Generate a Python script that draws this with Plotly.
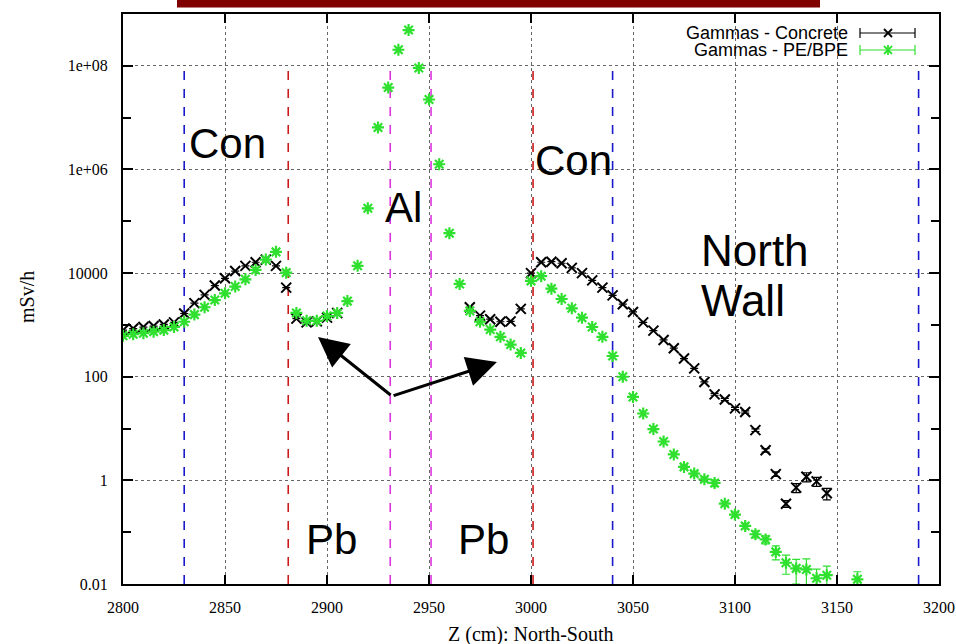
import plotly.graph_objects as go

# ---------------- data ----------------
z_concrete = [2800, 2805, 2810, 2815, 2820, 2825, 2830, 2835, 2840, 2845, 2850, 2855, 2860, 2865,
              2870, 2875, 2880, 2885, 2890, 2895, 2900, 2905,
              2970, 2975, 2980, 2985, 2990, 2995, 3000, 3005, 3010, 3015, 3020, 3025, 3030, 3035,
              3040, 3045, 3050, 3055, 3060, 3065, 3070, 3075, 3080, 3085, 3090, 3095, 3100, 3105,
              3110, 3115, 3120, 3125, 3130, 3135, 3140, 3145]
dose_concrete = [790, 850, 910, 950, 1020, 1120, 1660, 2630, 3800, 5750, 7940, 10960, 13800, 16200,
                 18200, 13800, 5250, 1320, 1120, 1170, 1380, 1700,
                 2190, 1510, 1290, 1150, 1170, 2040, 10000, 16200, 16600, 15500, 12600, 10000, 7240, 5250,
                 3720, 2510, 1780, 1120, 776, 513, 355, 224, 145, 79.4, 45.7, 36.3, 24.5, 20.9,
                 9.33, 3.80, 1.32, 0.355, 0.724, 1.17, 0.955, 0.562]
relerr_concrete = [0] * 46 + [0.04, 0.05, 0.05, 0.05, 0.06, 0.08, 0.1, 0.15, 0.2, 0.2, 0.2, 0.25]

z_pe = [2800, 2805, 2810, 2815, 2820, 2825, 2830, 2835, 2840, 2845, 2850, 2855, 2860, 2865,
        2870, 2875, 2880, 2885, 2890, 2895, 2900, 2905, 2910, 2915, 2920, 2925, 2930, 2935,
        2940, 2945, 2950, 2955, 2960, 2965, 2970, 2975, 2980, 2985, 2990, 2995, 3000, 3005,
        3010, 3015, 3020, 3025, 3030, 3035, 3040, 3045, 3050, 3055, 3060, 3065, 3070, 3075,
        3080, 3085, 3090, 3095, 3100, 3105, 3110, 3115, 3120, 3125, 3130, 3135, 3140, 3145, 3160]
dose_pe = [617, 661, 692, 741, 794, 912, 1150, 1580, 2190, 3020, 4070, 5500, 7590, 11500,
           18200, 25700, 10200, 1700, 1200, 1200, 1480, 1700, 2880, 13800, 178000, 6.46e6, 3.8e7, 2.04e8,
           4.9e8, 9.1e7, 2.24e7, 1.26e6, 58900, 6170, 1860, 1150, 813, 589, 417, 288, 7080, 8710,
           5010, 3160, 2090, 1380, 912, 589, 251, 100, 40.7, 19.5, 9.77, 5.62, 3.16, 1.82,
           1.35, 1.05, 0.891, 0.355, 0.219, 0.132, 0.0912, 0.0724, 0.0417, 0.0257, 0.0200, 0.0191,
           0.0129, 0.0148, 0.0123]
relerr_pe = [0] * 55 + [0.05, 0.08, 0.1, 0.15, 0.08, 0.1, 0.12, 0.15, 0.18, 0.3, 0.4, 0.5, 0.6, 0.5, 0.5, 0.4]

boundaries_z = [2830, 2881, 2931, 2951, 3001, 3040, 3190]
boundary_colors = ["#1a1acc", "#cc1a1a", "#dd33dd", "#dd33dd", "#cc1a1a", "#1a1acc", "#1a1acc"]
boundary_top = 1e8

y_tickvals = [0.01, 1, 100, 1e4, 1e6, 1e8]
y_ticktext = ["0.01", "1", "100", "10000", "1e+06", "1e+08"]
y_minor = [0.1, 10, 1000, 1e5, 1e7]
x_tickvals = [2800, 2850, 2900, 2950, 3000, 3050, 3100, 3150, 3200]

regions = [("Con", 2851, 6.51), ("Al", 2937.7, 5.27), ("Con", 3020.6, 6.18),
           ("Pb", 2902, -1.15), ("Pb", 2976.5, -1.15)]

GREEN = "#2fe02f"

# ---------------- figure ----------------
fig = go.Figure()

for zb, col in zip(boundaries_z, boundary_colors):
    fig.add_trace(go.Scatter(x=[zb, zb], y=[0.01, boundary_top], mode="lines",
                             line=dict(color=col, width=1.6, dash="dash"),
                             showlegend=False, hoverinfo="skip"))

fig.add_trace(go.Scatter(
    x=z_concrete, y=dose_concrete, mode="markers", name="Gammas - Concrete",
    marker=dict(symbol="x-thin-open", size=10, line=dict(color="black", width=2), color="black"),
    error_y=dict(type="data", array=[d * e for d, e in zip(dose_concrete, relerr_concrete)],
                 color="black", thickness=1.2, width=4),
    showlegend=False))

fig.add_trace(go.Scatter(
    x=z_pe, y=dose_pe, mode="markers", name="Gammas - PE/BPE",
    marker=dict(symbol="asterisk-open", size=10, line=dict(color=GREEN, width=2.2), color=GREEN),
    error_y=dict(type="data", array=[d * e for d, e in zip(dose_pe, relerr_pe)],
                 color=GREEN, thickness=1.2, width=4),
    showlegend=False))

# helpers for decorations placed in pixel space of the 956x644 page
L, R, T, B = 123, 939, 14, 584
def px(xp): return (xp - L) / (R - L)
def py(yp): return (B - yp) / (B - T)

shapes = []
# top slide bar
shapes.append(dict(type="rect", xref="paper", yref="paper", x0=px(177), x1=px(820),
                   y0=py(7.5), y1=py(-6), fillcolor="#800000", line=dict(width=0), layer="above"))

annotations = []
for txt, zx, ly in regions:
    annotations.append(dict(x=zx, y=ly, xref="x", yref="y", text=txt, showarrow=False,
                            font=dict(family="Liberation Sans", size=42, color="black")))
annotations.append(dict(x=3082.3, y=4.44, xref="x", yref="y", text="North", showarrow=False,
                        xanchor="left", font=dict(family="Liberation Sans", size=44, color="black")))
annotations.append(dict(x=3082.3, y=3.48, xref="x", yref="y", text="Wall", showarrow=False,
                        xanchor="left", font=dict(family="Liberation Sans", size=44, color="black")))

# arrows
for hx, hy in [(2895.6, 2.765), (2983.3, 2.282)]:
    annotations.append(dict(x=hx, y=hy, xref="x", yref="y", ax=2931.9, ay=1.625,
                            axref="x", ayref="y", text="", showarrow=True,
                            arrowhead=2, arrowsize=2.0, arrowwidth=3, arrowcolor="black"))

# custom legend (gnuplot style: text, then sample on the right)
leg = [("Gammas - Concrete", "black", 33, "x"), ("Gammas - PE/BPE", GREEN, 50, "*")]
for txt, col, yy, sym in leg:
    annotations.append(dict(x=px(850), y=py(yy), xref="paper", yref="paper", text=txt,
                            showarrow=False, xanchor="right", yanchor="middle",
                            font=dict(family="Liberation Sans", size=18, color="black")))
    shapes.append(dict(type="line", xref="paper", yref="paper", x0=px(860), x1=px(915),
                       y0=py(yy), y1=py(yy), line=dict(color=col, width=1.2)))
    for xc in (860, 915):
        shapes.append(dict(type="line", xref="paper", yref="paper", x0=px(xc), x1=px(xc),
                           y0=py(yy - 5), y1=py(yy + 5), line=dict(color=col, width=1.2)))
    shapes.append(dict(type="line", xref="paper", yref="paper", x0=px(884), x1=px(892),
                       y0=py(yy - 4), y1=py(yy + 4), line=dict(color=col, width=1.8)))
    shapes.append(dict(type="line", xref="paper", yref="paper", x0=px(884), x1=px(892),
                       y0=py(yy + 4), y1=py(yy - 4), line=dict(color=col, width=1.8)))
    if sym == "*":
        shapes.append(dict(type="line", xref="paper", yref="paper", x0=px(888), x1=px(888),
                           y0=py(yy - 5), y1=py(yy + 5), line=dict(color=col, width=1.8)))

# axis titles
annotations.append(dict(x=0.5, y=py(634), xref="paper", yref="paper", text="Z (cm): North-South",
                        showarrow=False, yanchor="middle",
                        font=dict(family="Liberation Serif", size=20, color="black")))
annotations.append(dict(x=px(27), y=py(297), xref="paper", yref="paper", text="mSv/h", textangle=-90,
                        showarrow=False, xanchor="center", yanchor="middle",
                        font=dict(family="Liberation Serif", size=20, color="black")))

fig.update_layout(
    width=956, height=644,
    margin=dict(l=L, r=956 - R, t=T, b=644 - B),
    plot_bgcolor="white", paper_bgcolor="white",
    shapes=shapes, annotations=annotations, showlegend=False,
)
fig.update_xaxes(
    range=[2800, 3200], tickvals=x_tickvals, ticks="inside", ticklen=9, tickwidth=1.5,
    tickcolor="black", showline=True, linecolor="black", linewidth=2, mirror="ticks",
    showgrid=True, gridcolor="#666", griddash="dot", gridwidth=1, zeroline=False,
    tickfont=dict(family="Liberation Serif", size=16, color="black"), ticklabelstandoff=8,
    automargin=False,
)
fig.update_yaxes(
    type="log", range=[-2, 9], tickvals=y_tickvals, ticktext=y_ticktext,
    ticks="inside", ticklen=10, tickwidth=1.5, tickcolor="black",
    showline=True, linecolor="black", linewidth=2, mirror="ticks",
    showgrid=True, gridcolor="#666", griddash="dot", gridwidth=1, zeroline=False,
    minor=dict(tickvals=y_minor, ticks="inside", ticklen=8, tickwidth=1.5, tickcolor="black", showgrid=False),
    tickfont=dict(family="Liberation Serif", size=16, color="black"), ticklabelstandoff=10,
    automargin=False,
)

fig.write_html("out.html", config={"displayModeBar": False},
               post_script="document.body.style.margin='0';document.body.style.padding='0';document.body.style.overflow='hidden';")
